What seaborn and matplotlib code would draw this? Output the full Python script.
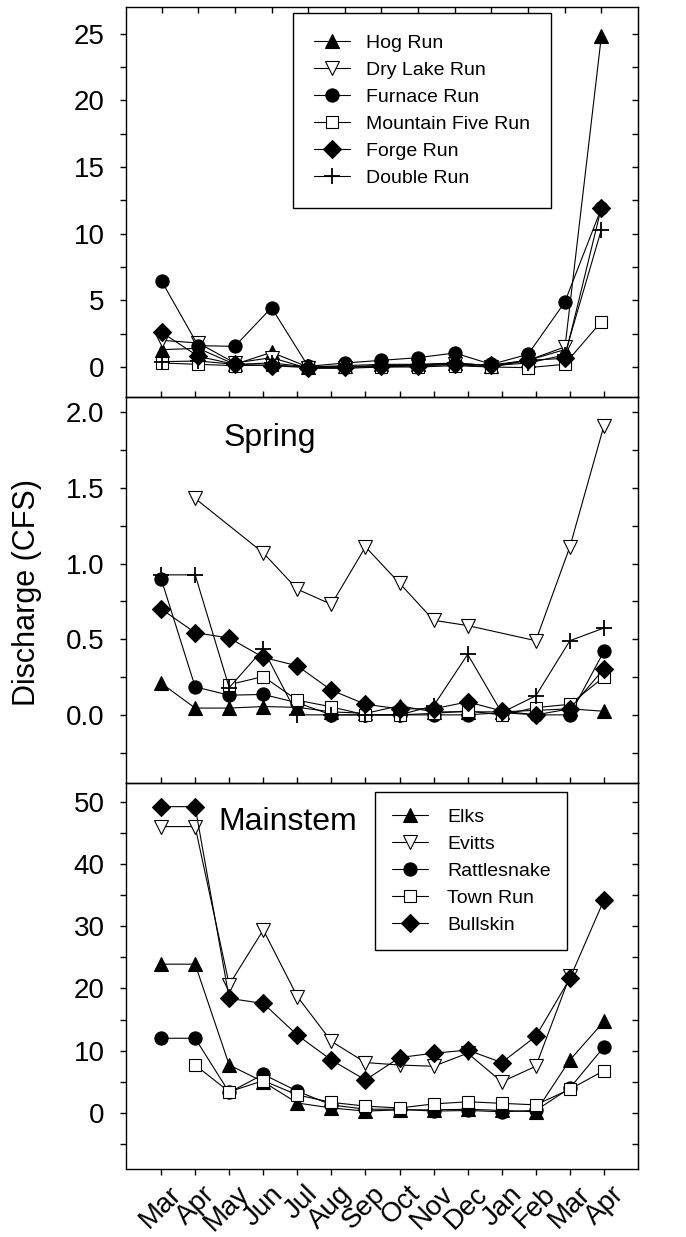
import numpy as np
import pandas as pd
import matplotlib
matplotlib.use("Agg")
import matplotlib.pyplot as plt
from matplotlib.ticker import MultipleLocator, FormatStrFormatter
from matplotlib.transforms import ScaledTranslation
import seaborn as sns

nan = np.nan

months = ["Mar", "Apr", "May", "Jun", "Jul", "Aug", "Sep",
          "Oct", "Nov", "Dec", "Jan", "Feb", "Mar", "Apr"]

# top panel (13 sampling dates)
hog_top = [1.3, 1.4, 0.2, 1.1, 0.0, 0.1, 0.2, 0.2, 0.3, 0.1, 0.5, 1.3, 24.8]
drylake_top = [2.0, 1.8, 0.3, 0.7, -0.1, -0.1, 0.0, 0.1, 0.2, 0.0, 0.5, 1.5, nan]
furnace_top = [6.45, 1.6, 1.55, 4.45, 0.05, 0.3, 0.5, 0.7, 1.05, 0.2, 0.95, 4.85, 11.9]
mtnfive_top = [0.3, 0.2, 0.1, 0.15, 0.0, 0.0, 0.0, 0.0, 0.1, 0.0, -0.05, 0.2, 3.4]
forge_top = [2.6, 0.8, 0.2, 0.1, -0.05, 0.0, 0.1, 0.1, 0.2, 0.15, 0.5, 0.65, 11.95]
double_top = [0.4, 0.45, 0.2, 0.3, 0.0, 0.0, 0.1, 0.15, 0.3, 0.1, 0.3, 0.9, 10.3]

# Spring
hog_spr = [0.21, 0.045, 0.045, 0.055, 0.05, 0.02, 0.01, 0.06, 0.02, 0.02, 0.02, 0.03, 0.04, 0.024]
drylake_spr = [nan, 1.43, nan, 1.07, 0.83, 0.73, 1.11, 0.87, 0.625, 0.59, nan, 0.49, 1.11, 1.91]
furnace_spr = [0.90, 0.185, 0.13, 0.135, 0.08, 0.0, 0.0, 0.0, 0.0, 0.0, 0.015, 0.0, 0.0, 0.42]
mtnfive_spr = [nan, nan, 0.20, 0.253, 0.097, 0.053, 0.0, 0.0, 0.01, 0.026, 0.0, 0.048, 0.07, 0.25]
forge_spr = [0.70, 0.543, 0.508, 0.38, 0.324, 0.163, 0.07, 0.04, 0.04, 0.086, 0.026, 0.0, 0.04, 0.305]
double_spr = [0.925, 0.925, 0.18, 0.434, 0.0, 0.0, 0.0, 0.0, 0.06, 0.40, 0.015, 0.126, 0.49, 0.574]

# Mainstem
elks = [23.9, 23.9, 7.7, 5.0, 1.6, 0.8, 0.3, 0.5, 0.5, 0.6, 0.4, 0.2, 8.5, 14.7]
evitts = [46.0, 46.0, 20.6, 29.4, 18.7, 11.5, 8.1, 7.7, 7.5, 9.6, 5.0, 7.5, 22.0, nan]
rattlesnake = [12.0, 12.0, 3.3, 6.2, 3.5, 1.3, 0.6, 0.6, 0.3, 0.4, 0.2, 0.4, 4.0, 10.6]
townrun = [nan, 7.7, 3.4, 5.2, 2.9, 1.7, 1.1, 0.8, 1.45, 1.8, 1.55, 1.3, 3.8, 6.8]
bullskin = [49.2, 49.2, 18.4, 17.6, 12.5, 8.5, 5.3, 8.9, 9.6, 10.1, 8.1, 12.3, 21.6, 34.2]

sns.set_style("ticks")
plt.rcParams["font.family"] = ["Liberation Sans", "DejaVu Sans"]
plt.rcParams["axes.edgecolor"] = "black"
plt.rcParams["text.color"] = "black"
plt.rcParams["xtick.color"] = "black"
plt.rcParams["ytick.color"] = "black"

# marker, face colour, size
MARK = {
    "tri": ("^", "black", 10.5),
    "dtri": ("v", "white", 10.5),
    "circ": ("o", "black", 9.5),
    "sq": ("s", "white", 8.5),
    "dia": ("D", "black", 9.0),
    "plus": ("+", "black", 11),
}


def draw(ax, values, kind, label=None):
    x = np.arange(len(values))
    df = pd.DataFrame({"x": x, "y": values}).dropna()
    m, face, ms = MARK[kind]
    sns.lineplot(data=df, x="x", y="y", ax=ax, color="black", lw=0.8,
                 marker=m, markersize=ms, markerfacecolor=face,
                 markeredgecolor="black",
                 markeredgewidth=1.3 if kind == "plus" else 0.8,
                 label=label, legend=False)


def style_y(ax, major, minor, fmt=None):
    ax.yaxis.set_major_locator(MultipleLocator(major))
    ax.yaxis.set_minor_locator(MultipleLocator(minor))
    ax.tick_params(axis="y", which="both", direction="out", length=4.5,
                   width=1, left=True, right=False, labelsize=20, pad=11)
    if fmt:
        ax.yaxis.set_major_formatter(FormatStrFormatter(fmt))
    sec = ax.secondary_yaxis("right")
    sec.yaxis.set_major_locator(MultipleLocator(minor))
    sec.tick_params(axis="y", which="both", direction="in", length=4.5,
                    width=1, labelright=False)
    ax.set_xlabel("")
    ax.set_ylabel("")
    for s in ax.spines.values():
        s.set_linewidth(1.0)
        s.set_visible(True)


W, H = 686, 1237
fig = plt.figure(figsize=(W / 100, H / 100), dpi=100)
left, width = 126 / W, 512 / W
ax1 = fig.add_axes([left, 1 - 397 / H, width, 390 / H])
ax2 = fig.add_axes([left, 1 - 783 / H, width, 386 / H])
ax3 = fig.add_axes([left, 1 - 1169 / H, width, 386 / H])
for a in (ax1, ax2, ax3):
    a.set_facecolor("none")

# top panel
draw(ax1, hog_top, "tri", "Hog Run")
draw(ax1, drylake_top, "dtri", "Dry Lake Run")
draw(ax1, furnace_top, "circ", "Furnace Run")
draw(ax1, mtnfive_top, "sq", "Mountain Five Run")
draw(ax1, forge_top, "dia", "Forge Run")
draw(ax1, double_top, "plus", "Double Run")
ax1.set_xlim(-0.97, 13.0)
ax1.set_ylim(-2.25, 27)
ax1.set_xticks(range(13))
ax1.tick_params(axis="x", direction="in", top=True, bottom=False,
                labelbottom=False, length=4.5, width=1)
style_y(ax1, 5, 2.5)
leg1 = ax1.legend(loc="upper left", bbox_to_anchor=(293 / W, 1 - 13 / H),
                  bbox_transform=fig.transFigure, borderaxespad=0,
                  fontsize=14, handlelength=1.85, handletextpad=0.8,
                  borderpad=1.1, labelspacing=0.48, fancybox=False,
                  framealpha=1)
leg1.get_frame().set_edgecolor("black")
leg1.get_frame().set_linewidth(1.0)

# Spring
draw(ax2, hog_spr, "tri")
draw(ax2, drylake_spr, "dtri")
draw(ax2, furnace_spr, "circ")
draw(ax2, mtnfive_spr, "sq")
draw(ax2, forge_spr, "dia")
draw(ax2, double_spr, "plus")
ax2.set_xlim(-1.03, 14.0)
ax2.set_ylim(-0.45, 2.1)
ax2.set_xticks(range(14))
ax2.tick_params(axis="x", direction="out", top=True, bottom=False,
                labelbottom=False, length=4.5, width=1)
style_y(ax2, 0.5, 0.25, "%.1f")
ax2.text(0.191, 0.894, "Spring", transform=ax2.transAxes, fontsize=23,
         va="center", ha="left")

# Mainstem
draw(ax3, elks, "tri", "Elks")
draw(ax3, evitts, "dtri", "Evitts")
draw(ax3, rattlesnake, "circ", "Rattlesnake")
draw(ax3, townrun, "sq", "Town Run")
draw(ax3, bullskin, "dia", "Bullskin")
ax3.set_xlim(-1.03, 14.0)
ax3.set_ylim(-9, 53)
ax3.set_xticks(range(14))
ax3.set_xticklabels(months, rotation=45, ha="right", va="top",
                    rotation_mode="anchor")
ax3.tick_params(axis="x", direction="out", top=True, bottom=True,
                length=4.5, width=1, labelsize=20, pad=4)
for lab in ax3.get_xticklabels():
    lab.set_transform(lab.get_transform() +
                      ScaledTranslation(5 / 72, 0, fig.dpi_scale_trans))
style_y(ax3, 10, 5)
ax3.text(0.18, 0.899, "Mainstem", transform=ax3.transAxes, fontsize=23,
         va="center", ha="left")
leg3 = ax3.legend(loc="upper left", bbox_to_anchor=(375 / W, 1 - 792 / H),
                  bbox_transform=fig.transFigure, borderaxespad=0,
                  fontsize=14, handlelength=1.85, handletextpad=1.0,
                  borderpad=0.85, labelspacing=0.48, fancybox=False,
                  framealpha=1)
leg3.get_frame().set_edgecolor("black")
leg3.get_frame().set_linewidth(1.0)

fig.text(27 / W, 1 - 592 / H, "Discharge (CFS)", rotation=90, fontsize=22,
         ha="center", va="center")

fig.savefig("out.png", dpi=100)
